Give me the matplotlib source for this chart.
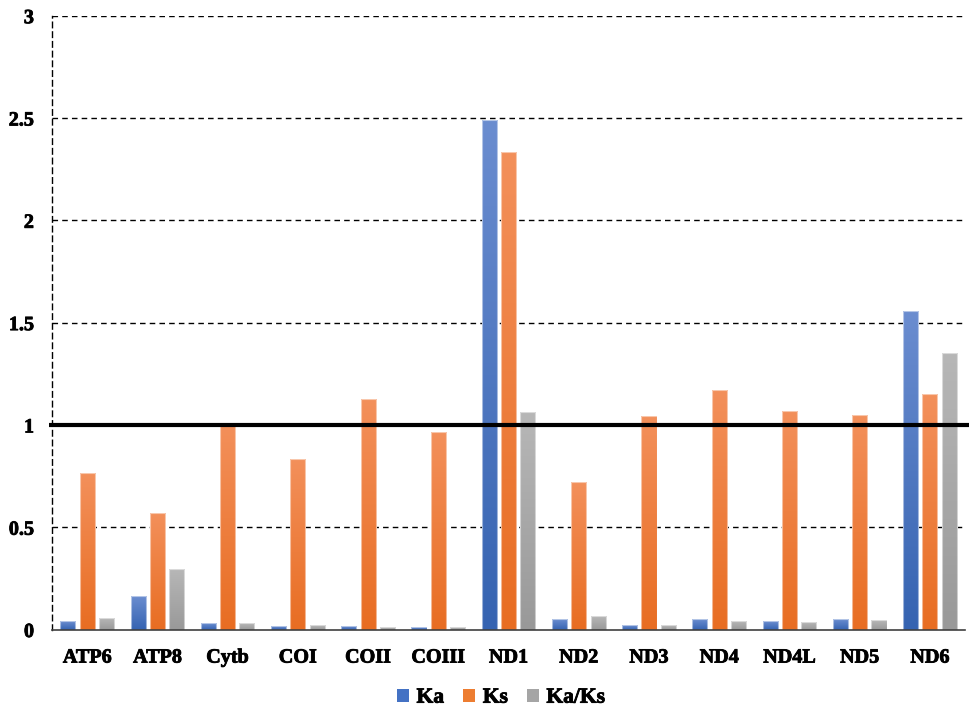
import numpy as np
import matplotlib
matplotlib.use("Agg")
import matplotlib.pyplot as plt
import matplotlib.patheffects as pe
from matplotlib.colors import LinearSegmentedColormap
from matplotlib.font_manager import FontProperties

genes = ["ATP6", "ATP8", "Cytb", "COI", "COII", "COIII", "ND1",
         "ND2", "ND3", "ND4", "ND4L", "ND5", "ND6"]
ka = [0.041, 0.166, 0.031, 0.015, 0.015, 0.012, 2.489,
      0.049, 0.020, 0.049, 0.042, 0.049, 1.558]
ks = [0.766, 0.568, 1.004, 0.832, 1.128, 0.964, 2.332,
      0.719, 1.042, 1.169, 1.068, 1.048, 1.152]
ka_ks = [0.054, 0.294, 0.031, 0.020, 0.012, 0.013, 1.065,
         0.068, 0.020, 0.041, 0.039, 0.046, 1.351]
series_names = ["Ka", "Ks", "Ka/Ks"]
y_ticks = [0, 0.5, 1, 1.5, 2, 2.5, 3]
y_tick_labels = ["0", "0.5", "1", "1.5", "2", "2.5", "3"]

# (top colour, bottom colour, legend colour) per series
palette = [
    ("#6b8dd0", "#3563b1", "#4472c4"),
    ("#f3905b", "#e86d22", "#ed7d31"),
    ("#b7b7b7", "#999999", "#a5a5a5"),
]

label_font = FontProperties(family="Liberation Serif", weight="bold", size=14.5)
heavy = [pe.withStroke(linewidth=0.6, foreground="black")]

fig = plt.figure(figsize=(9.69, 7.09), dpi=100)
ax = fig.add_axes([0.0537, 0.1121, 0.9422, 0.8658])

x = np.arange(len(genes))
width = 0.215
step = 0.275
containers = []
for i, (vals, name, cols) in enumerate(zip([ka, ks, ka_ks], series_names, palette)):
    bc = ax.bar(x + (i - 1) * step, vals, width, color=cols[2], label=name,
                edgecolor="none", zorder=3)
    containers.append(bc)
    cmap = LinearSegmentedColormap.from_list(name + "_grad", [cols[1], cols[0]])
    grad = np.linspace(0, 1, 256).reshape(-1, 1)
    for p in bc.patches:
        x0, y0 = p.get_x(), p.get_y()
        w, h = p.get_width(), p.get_height()
        im = ax.imshow(grad, cmap=cmap, origin="lower", aspect="auto",
                       extent=[x0, x0 + w, y0, y0 + h], zorder=4,
                       interpolation="bilinear")
        im.set_clip_path(p)
        # faint light outline around each bar
        ax.add_patch(plt.Rectangle((x0, y0), w, h, fill=False,
                                   edgecolor="white", linewidth=0.8,
                                   alpha=0.5, zorder=5))

ax.set_xlim(-0.5, len(genes) - 0.5)
ax.set_ylim(0, 3)

# dashed horizontal gridlines
for yv in y_ticks[1:]:
    if yv == 1:
        continue
    ax.axhline(yv, color="black", linestyle=(0, (4, 3)), linewidth=1.0, zorder=2)

# reference line at Ka/Ks = 1
ax.plot([-0.003, 1.005], [1, 1], transform=ax.get_yaxis_transform(),
        color="black", linewidth=3, zorder=6, clip_on=False,
        solid_capstyle="butt")

for side in ["top", "right"]:
    ax.spines[side].set_visible(False)
ax.spines["left"].set_linestyle((0, (4, 3)))
ax.spines["left"].set_linewidth(1.0)
ax.spines["left"].set_color("black")
ax.spines["bottom"].set_color("#404040")
ax.spines["bottom"].set_linewidth(1.2)
ax.spines["bottom"].set_zorder(6)

ax.tick_params(axis="y", length=0, pad=13)
ax.tick_params(axis="x", length=0, pad=13)
ax.set_yticks(y_ticks)
ax.set_yticklabels(y_tick_labels, fontproperties=label_font)
ax.set_xticks(x)
ax.set_xticklabels(genes, fontproperties=label_font)
for lbl in ax.get_xticklabels() + ax.get_yticklabels():
    lbl.set_path_effects(heavy)

leg = fig.legend(handles=containers, labels=series_names, loc="center",
                 bbox_to_anchor=(0.517, 0.016), ncol=3, frameon=False,
                 handlelength=0.55, handleheight=0.55,
                 handletextpad=0.35, columnspacing=0.9, borderpad=0.2,
                 prop=FontProperties(family="Liberation Serif", weight="bold", size=15.5))
for t in leg.get_texts():
    t.set_path_effects(heavy)

fig.savefig("out.png", dpi=100)
